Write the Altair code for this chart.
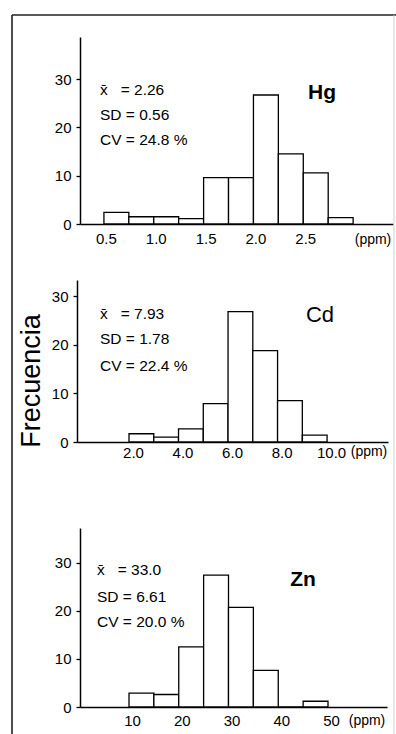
import altair as alt
import pandas as pd

# ---------------- data ----------------
hg_edges = [0.5, 0.75, 1.0, 1.25, 1.5, 1.75, 2.0, 2.25, 2.5, 2.75, 3.0]
hg_freq = [2.4, 1.5, 1.5, 1.1, 9.6, 9.6, 26.7, 14.5, 10.6, 1.3]
hg_ticks = [0.5, 1.0, 1.5, 2.0, 2.5]
hg_stats = ["2.26", "0.56", "24.8 %"]

cd_edges = [2, 3, 4, 5, 6, 7, 8, 9, 10]
cd_freq = [1.7, 1.0, 2.7, 7.9, 26.8, 18.8, 8.5, 1.4]
cd_ticks = [2, 4, 6, 8, 10]
cd_stats = ["7.93", "1.78", "22.4 %"]

zn_edges = [10, 15, 20, 25, 30, 35, 40, 45, 50]
zn_freq = [2.9, 2.6, 12.5, 27.4, 20.7, 7.6, 0, 1.2]
zn_ticks = [10, 20, 30, 40, 50]
zn_stats = ["33.0", "6.61", "20.0 %"]

y_ticks = [0, 10, 20, 30]
elements = ["Hg", "Cd", "Zn"]
stat_names = ["x\u0304\u00a0\u00a0\u00a0=\u00a0", "SD\u00a0=\u00a0", "CV\u00a0=\u00a0"]
unit_label = "(ppm)"
y_title = "Frecuencia"

# ---------------- layout ----------------
W, H = 396, 734
FONT = "Liberation Sans"


def hist(edges, freq, ticks, fmt, xdom, xrng, ydom, yrng, dx, lpad):
    df = pd.DataFrame({"lo": edges[:-1], "hi": edges[1:], "f": freq})
    return alt.Chart(df).mark_bar(
        fill="white", stroke="black", strokeWidth=1.3, opacity=1
    ).encode(
        x=alt.X(
            "lo:Q",
            scale=alt.Scale(domain=xdom, range=xrng, nice=False, zero=False),
            axis=alt.Axis(
                orient="bottom", offset=yrng[0] - H, values=ticks, format=fmt,
                ticks=False, labelPadding=lpad, labelOffset=dx, labelFlush=False,
                labelOverlap=False, title=None, grid=False,
            ),
        ),
        x2="hi:Q",
        y=alt.Y(
            "f:Q",
            scale=alt.Scale(domain=ydom, range=yrng, nice=False),
            axis=alt.Axis(
                orient="left", offset=-xrng[0], values=y_ticks, format="d",
                tickSize=4, labelPadding=5, labelFlush=False,
                labelOverlap=False, title=None, grid=False,
            ),
        ),
        y2=alt.datum(0),
    )


def txt(s, x, y, size=15, weight="normal", align="left", angle=0):
    return alt.Chart(pd.DataFrame({"t": [s]})).mark_text(
        align=align, baseline="middle", fontSize=size, fontWeight=weight,
        font=FONT, color="black", angle=angle,
    ).encode(text="t:N", x=alt.value(x), y=alt.value(y))


def rule(x, y, x2, y2, color="#222", width=1.6):
    return alt.Chart(pd.DataFrame({"a": [0]})).mark_rule(
        color=color, strokeWidth=width
    ).encode(x=alt.value(x), y=alt.value(y), x2=alt.value(x2), y2=alt.value(y2))


layers = [
    hist(hg_edges, hg_freq, hg_ticks, ".1f", [0.26, 3.40], [80, 393], [0, 38.7], [224, 37], 2, 7),
    hist(cd_edges, cd_freq, cd_ticks, ".1f", [-0.1, 12.46], [77, 388], [0, 33.3], [442, 280], 4, 3),
    hist(zn_edges, zn_freq, zn_ticks, "d", [0.15, 61.86], [80, 387], [0, 37.2], [707, 528], 3, 6),
]

# statistics text
for stats, x0, ys in [
    (hg_stats, 100, [90, 115, 140]),
    (cd_stats, 100, [314, 339, 366]),
    (zn_stats, 97, [570, 597, 622]),
]:
    for name, val, yy in zip(stat_names, stats, ys):
        layers.append(txt(name + val, x0, yy, size=15.5))

# element symbols
layers.append(txt(elements[0], 322, 93, size=21, weight="bold", align="center"))
layers.append(txt(elements[1], 320, 315, size=22, weight="normal", align="center"))
layers.append(txt(elements[2], 303, 580, size=21, weight="bold", align="center"))

# unit labels
layers.append(txt(unit_label, 373, 240, size=14, align="center"))
layers.append(txt(unit_label, 369, 452, size=14, align="center"))
layers.append(txt(unit_label, 367, 721, size=14, align="center"))

# y title
layers.append(txt(y_title, 32, 381, size=27, align="center", angle=270))

# frame
layers.append(rule(12, 15, 12, H))
layers.append(rule(12, 15, W, 15))
layers.append(rule(394, 15, 394, H, color="#d0d0d0", width=1))

chart = (
    alt.layer(*layers)
    .resolve_scale(x="independent", y="independent")
    .properties(width=W, height=H, autosize=alt.AutoSizeParams(type="none"), padding=0,
                background="white")
    .configure_view(stroke=None)
    .configure_axis(
        domainColor="black", domainWidth=1.5, tickColor="black", tickWidth=1.3,
        labelColor="black", labelFont=FONT, labelFontSize=15,
    )
)

chart.save("out.html", embed_options={"renderer": "svg", "actions": False})
